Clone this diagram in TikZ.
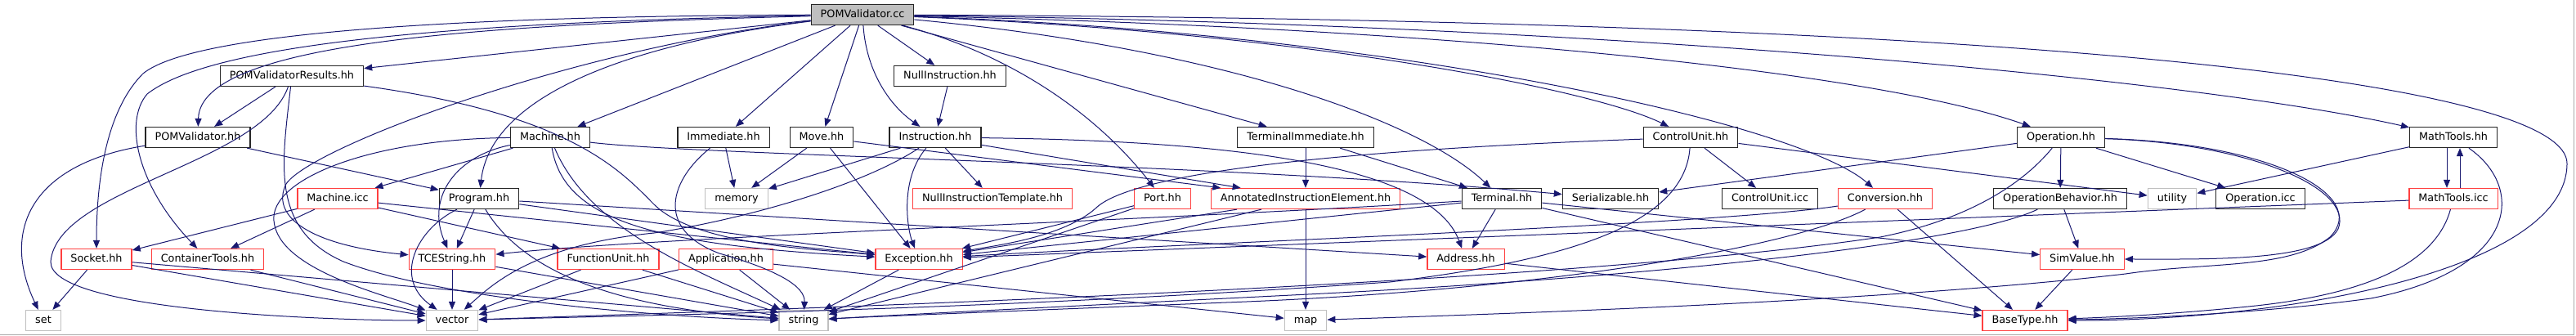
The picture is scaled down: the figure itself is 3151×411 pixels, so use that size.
\documentclass[tikz,border=0pt]{standalone}
\usepackage{fontspec}
\setmainfont{DejaVu Sans}
\usetikzlibrary{arrows.meta}
\definecolor{edgeblue}{RGB}{25,25,112}
\definecolor{truncred}{RGB}{255,64,64}
\definecolor{extgray}{RGB}{191,191,191}
\definecolor{framegray}{RGB}{170,170,170}
\begin{document}
\begin{tikzpicture}[x=1pt,y=-1pt,
  hdr/.style={draw=black!85,line width=1.3pt,rectangle,minimum height=25pt,inner xsep=11.5pt,inner ysep=0pt,
    text height=9.5pt,text depth=2.7pt,font=\fontsize{12.8}{15}\selectfont},
  hdrred/.style={hdr,draw=truncred},
  hdrsys/.style={hdr,draw=extgray},
  hdrroot/.style={hdr,fill=extgray},
  dep/.style={draw=edgeblue,line width=1pt,-{Triangle[length=10pt,width=8pt]}}]
\useasboundingbox (0,0) rectangle (3151,411);
\draw[framegray,line width=1pt] (0,410) -- (3148,410) -- (3148,0);

\node[hdrroot] (cc) at (1055,18) {POMValidator.cc};
\node[hdr] (pvr) at (357,93) {POMValidatorResults.hh};
\node[hdr] (nullinstr) at (1162,93) {NullInstruction.hh};
\node[hdr] (pv) at (242,168) {POMValidator.hh};
\node[hdr] (machine) at (673,168) {Machine.hh};
\node[hdr] (immediate) at (885,168) {Immediate.hh};
\node[hdr] (move) at (1005,168) {Move.hh};
\node[hdr] (instr) at (1144,168) {Instruction.hh};
\node[hdr] (termimm) at (1597,168) {TerminalImmediate.hh};
\node[hdr] (cu) at (2068,168) {ControlUnit.hh};
\node[hdr] (op) at (2521,168) {Operation.hh};
\node[hdr] (mt) at (3001,168) {MathTools.hh};
\node[hdrred] (machineicc) at (413,243) {Machine.icc};
\node[hdr] (program) at (586,243) {Program.hh};
\node[hdrsys] (memory) at (901,243) {memory};
\node[hdrred] (nit) at (1214,243) {NullInstructionTemplate.hh};
\node[hdrred] (port) at (1422,243) {Port.hh};
\node[hdrred] (aie) at (1597,243) {AnnotatedInstructionElement.hh};
\node[hdr] (terminal) at (1837,243) {Terminal.hh};
\node[hdr] (serial) at (1970,243) {Serializable.hh};
\node[hdr] (cuicc) at (2165,243) {ControlUnit.icc};
\node[hdrred] (conv) at (2306,243) {Conversion.hh};
\node[hdr] (opbeh) at (2520,243) {OperationBehavior.hh};
\node[hdrsys] (utility) at (2657,243) {utility};
\node[hdr] (opicc) at (2765,243) {Operation.icc};
\node[hdrred] (mticc) at (3001,243) {MathTools.icc};
\node[hdrred] (socket) at (118,317) {Socket.hh};
\node[hdrred] (ctools) at (254,317) {ContainerTools.hh};
\node[hdrred] (tce) at (553,317) {TCEString.hh};
\node[hdrred] (fu) at (744,317) {FunctionUnit.hh};
\node[hdrred] (app) at (888,317) {Application.hh};
\node[hdrred] (exc) at (1124,317) {Exception.hh};
\node[hdrred] (address) at (1793,317) {Address.hh};
\node[hdrred] (simval) at (2547,317) {SimValue.hh};
\node[hdrsys] (set) at (53,392) {set};
\node[hdrsys] (vector) at (553,392) {vector};
\node[hdrsys] (string) at (983,392) {string};
\node[hdrsys] (map) at (1597,392) {map};
\node[hdrred] (bt) at (2477,392) {BaseType.hh};

\draw[dep] (cc) -- (pvr);
\draw[dep] (cc) .. controls (600,30) and (245,50) .. (pv);
\draw[dep] (cc) .. controls (500,20) and (230,45) .. (175,90) .. controls (130,135) and (118,220) .. (socket);
\draw[dep] (cc) .. controls (500,28) and (250,60) .. (180,115) .. controls (150,150) and (170,230) .. (ctools);
\draw[dep] (cc) -- (machine);
\draw[dep] (cc) .. controls (760,55) and (600,120) .. (program);
\draw[dep] (cc) .. controls (700,60) and (380,180) .. (350,225) .. controls (330,265) and (380,300) .. (tce);
\draw[dep] (cc) -- (immediate);
\draw[dep] (cc) -- (move);
\draw[dep] (cc) .. controls (1060,90) and (1090,130) .. (instr);
\draw[dep] (cc) -- (nullinstr);
\draw[dep] (cc) .. controls (1250,70) and (1350,150) .. (port);
\draw[dep] (cc) -- (termimm);
\draw[dep] (cc) .. controls (1500,60) and (1740,150) .. (terminal);
\draw[dep] (cc) .. controls (1600,40) and (1950,110) .. (cu);
\draw[dep] (cc) .. controls (1700,40) and (2200,150) .. (conv);
\draw[dep] (cc) .. controls (1800,35) and (2300,90) .. (op);
\draw[dep] (cc) .. controls (2000,30) and (2700,100) .. (mt);
\draw[dep] (cc) .. controls (2600,25) and (3140,110) .. (3140,200) .. controls (3140,330) and (2800,392) .. (bt);

\draw[dep] (pvr) -- (pv);
\draw[dep] (pvr) .. controls (320,200) and (70,230) .. (62,320) .. controls (60,380) and (400,392) .. (vector);
\draw[dep] (pvr) .. controls (345,200) and (330,280) .. (420,320) .. controls (550,370) and (850,390) .. (string);
\draw[dep] (pvr) .. controls (700,140) and (760,210) .. (800,250) .. controls (850,300) and (1000,305) .. (exc);
\draw[dep] (pv) .. controls (40,200) and (0,280) .. (set);
\draw[dep] (pv) -- (program);

\draw[dep] (machine) -- (machineicc);
\draw[dep] (machine) .. controls (560,190) and (520,240) .. (tce);
\draw[dep] (machine) .. controls (450,170) and (330,220) .. (335,270) .. controls (340,330) and (470,360) .. (vector);
\draw[dep] (machine) .. controls (690,270) and (800,300) .. (exc);
\draw[dep] (machine) .. controls (720,280) and (850,330) .. (string);
\draw[dep] (machine) .. controls (850,190) and (1500,200) .. (serial);
\draw[dep] (machineicc) -- (socket);
\draw[dep] (machineicc) -- (ctools);
\draw[dep] (machineicc) -- (fu);
\draw[dep] (machineicc) -- (exc);

\draw[dep] (program) -- (tce);
\draw[dep] (program) .. controls (510,280) and (480,340) .. (vector);
\draw[dep] (program) -- (exc);
\draw[dep] (program) -- (address);
\draw[dep] (program) .. controls (650,350) and (800,380) .. (string);

\draw[dep] (socket) -- (set);
\draw[dep] (socket) -- (vector);
\draw[dep] (socket) -- (string);
\draw[dep] (ctools) -- (vector);
\draw[dep] (tce) -- (vector);
\draw[dep] (tce) -- (string);
\draw[dep] (fu) -- (vector);
\draw[dep] (fu) -- (string);
\draw[dep] (app) -- (vector);
\draw[dep] (app) -- (string);
\draw[dep] (app) -- (map);
\draw[dep] (exc) -- (string);

\draw[dep] (immediate) -- (memory);
\draw[dep] (immediate) .. controls (820,220) and (800,280) .. (880,310) .. controls (950,330) and (985,350) .. (string);
\draw[dep] (move) -- (memory);
\draw[dep] (move) -- (exc);
\draw[dep] (move) -- (aie);
\draw[dep] (nullinstr) -- (instr);
\draw[dep] (instr) -- (memory);
\draw[dep] (instr) -- (nit);
\draw[dep] (instr) .. controls (1100,220) and (1110,280) .. (exc);
\draw[dep] (instr) .. controls (1050,230) and (900,270) .. (800,285) .. controls (650,300) and (600,350) .. (vector);
\draw[dep] (instr) .. controls (1500,172) and (1750,200) .. (address);
\draw[dep] (instr) -- (aie);

\draw[dep] (port) -- (exc);
\draw[dep] (port) -- (string);
\draw[dep] (aie) -- (map);
\draw[dep] (aie) -- (exc);
\draw[dep] (aie) -- (string);
\draw[dep] (termimm) -- (aie);
\draw[dep] (termimm) -- (terminal);
\draw[dep] (terminal) -- (address);
\draw[dep] (terminal) -- (exc);
\draw[dep] (terminal) .. controls (1400,270) and (800,290) .. (tce);
\draw[dep] (terminal) -- (simval);
\draw[dep] (terminal) -- (bt);
\draw[dep] (address) -- (bt);

\draw[dep] (cu) -- (cuicc);
\draw[dep] (cu) -- (utility);
\draw[dep] (cu) .. controls (1600,185) and (1380,215) .. (1340,255) .. controls (1300,290) and (1220,300) .. (exc);
\draw[dep] (cu) .. controls (2060,280) and (1900,320) .. (1700,345) .. controls (1200,380) and (800,385) .. (vector);
\draw[dep] (conv) -- (bt);
\draw[dep] (conv) .. controls (2100,275) and (1400,300) .. (exc);
\draw[dep] (conv) .. controls (2200,300) and (1900,355) .. (1500,370) .. controls (1200,382) and (1050,388) .. (string);

\draw[dep] (op) -- (opbeh);
\draw[dep] (op) -- (opicc);
\draw[dep] (op) -- (serial);
\draw[dep] (op) .. controls (2750,175) and (2880,230) .. (2860,280) .. controls (2840,320) and (2700,317) .. (simval);
\draw[dep] (op) .. controls (2780,175) and (2900,240) .. (2850,290) .. controls (2800,330) and (2700,320) .. (2600,335) .. controls (2300,370) and (1800,385) .. (map);
\draw[dep] (op) .. controls (2470,230) and (2400,270) .. (2300,290) .. controls (1900,350) and (900,380) .. (vector);
\draw[dep] (opbeh) -- (simval);
\draw[dep] (opbeh) .. controls (2400,300) and (2000,340) .. (1600,360) .. controls (1300,375) and (1100,385) .. (string);
\draw[dep] (simval) -- (bt);

\draw[dep] ([xshift=-8pt]mt.south) -- ([xshift=-8pt]mticc.north);
\draw[dep] ([xshift=8pt]mticc.north) -- ([xshift=8pt]mt.south);
\draw[dep] (mt) -- (utility);
\draw[dep] (mt) .. controls (3090,230) and (3080,330) .. (2900,365) .. controls (2750,385) and (2600,390) .. (bt);
\draw[dep] (mticc) .. controls (2980,320) and (2900,360) .. (2750,375) .. controls (2650,385) and (2580,388) .. (bt);
\draw[dep] (mticc) -- (exc);
\end{tikzpicture}
\end{document}
